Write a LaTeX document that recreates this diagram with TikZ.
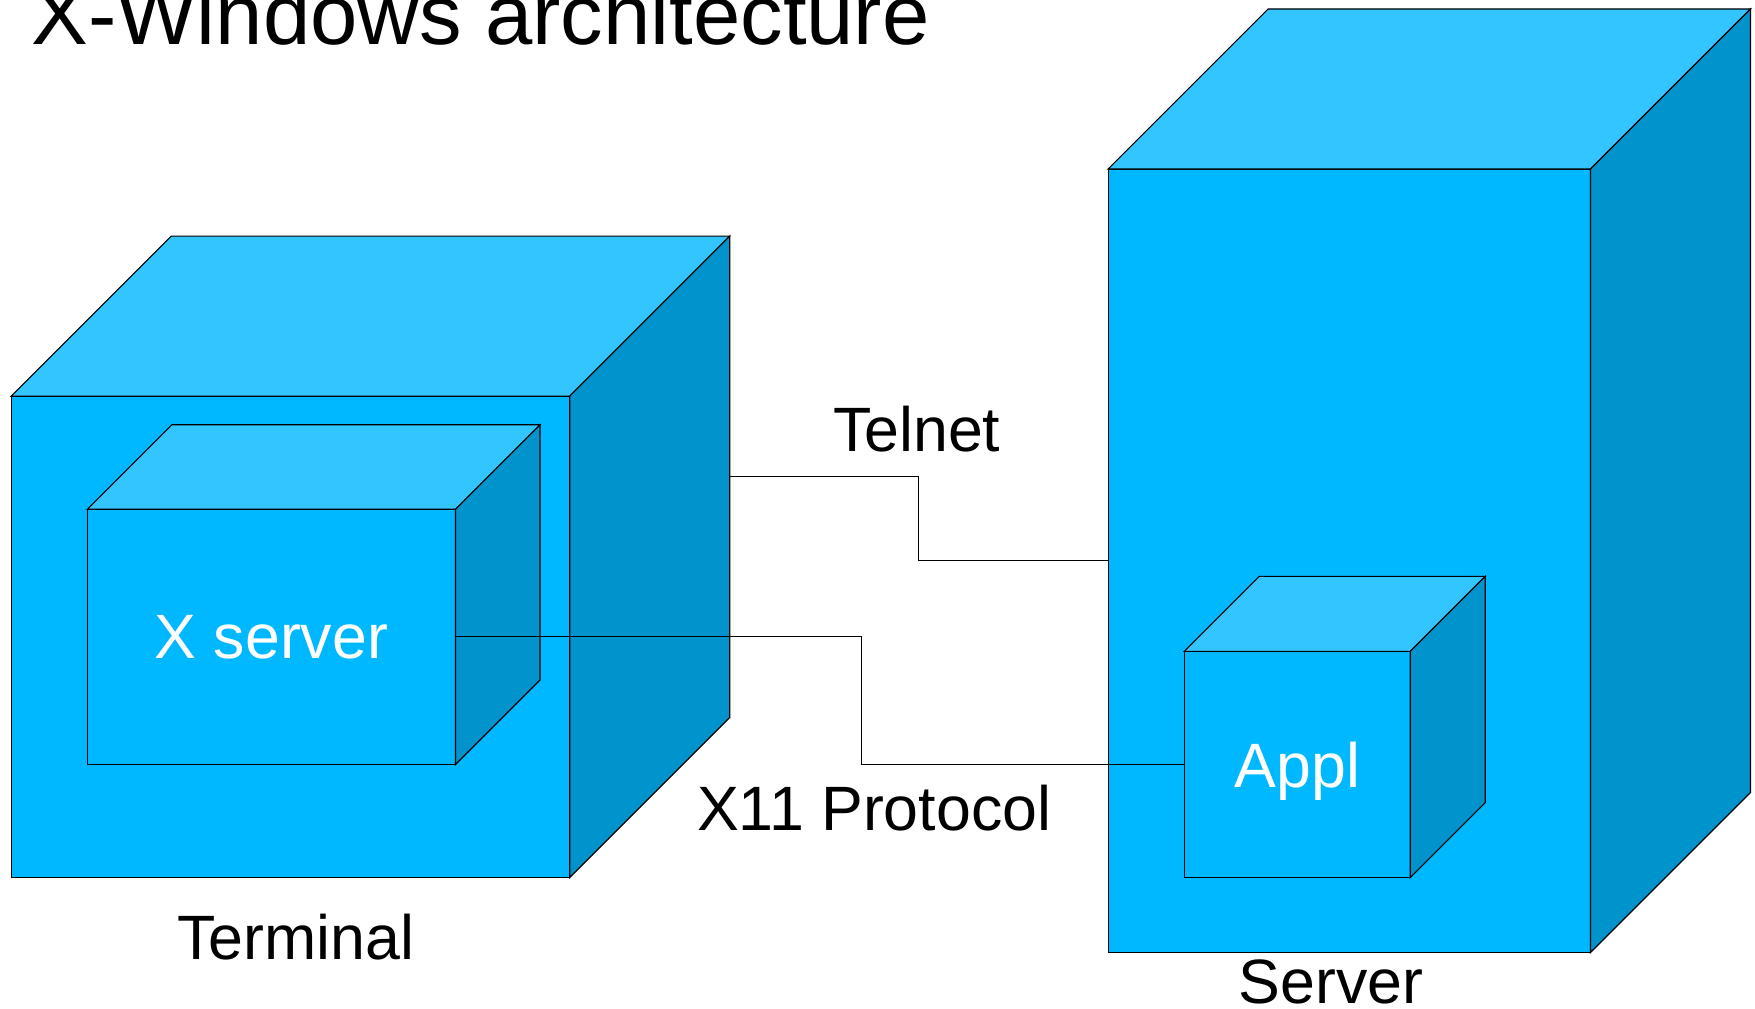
\documentclass[tikz,border=0pt]{standalone}
\usepackage{fontspec}
\setmainfont{Liberation Sans}
\usetikzlibrary{calc}
\definecolor{frontc}{RGB}{0,184,255}
\definecolor{topc}{RGB}{51,197,255}
\definecolor{sidec}{RGB}{0,147,204}
\tikzset{
 face/.style={draw=black, fill=frontc, line width=1pt, inner sep=0pt, outer sep=0pt, anchor=north west, text=white, font=\fontsize{56}{60}\selectfont, text depth=0pt},
 lbl/.style={anchor=base, font=\fontsize{56}{60}\selectfont, inner sep=0pt},
 topface/.style={draw=black, fill=topc, line width=1pt},
 sideface/.style={draw=black, fill=sidec, line width=1pt},
 wire/.style={draw=black, line width=1pt}
}
\newcommand\cubefaces[2]{%
 \path[topface] (#1.north west) -- ++(#2,-#2) -- ($(#1.north east)+(#2,-#2)$) -- (#1.north east) -- cycle;
 \path[sideface] (#1.north east) -- ($(#1.north east)+(#2,-#2)$) -- ($(#1.south east)+(#2,-#2)$) -- (#1.south east) -- cycle;
}
\begin{document}
\begin{tikzpicture}[x=1pt,y=-1pt]
\useasboundingbox (0,0) rectangle (1568,901);
\node[face, minimum width=499pt, minimum height=430pt] (term) at (10,354) {};
\cubefaces{term}{143}
\node[face, minimum width=329pt, minimum height=228pt] (xsrv) at (78,455) {X server};
\cubefaces{xsrv}{75.5}
\node[face, minimum width=431pt, minimum height=700pt] (srv) at (990,151) {};
\cubefaces{srv}{143}
\node[face, minimum width=202pt, minimum height=202pt] (appl) at (1058,582) {Appl};
\cubefaces{appl}{67}
\coordinate (tstart) at ($(term.east)+(143,-143)$);
\draw[wire] (tstart) -- ++(169,0) |- (srv.west);
\draw[wire] (xsrv.east) -- ++(363,0) |- (appl.west);
\node[lbl] (telnet) at (819,403) {Telnet};
\node[lbl] (x11) at (781,742) {X11 Protocol};
\node[lbl] (termlbl) at (264,857) {Terminal};
\node[lbl] (srvlbl) at (1189,897) {Server};
\node[anchor=base west, font=\fontsize{76}{80}\selectfont, inner sep=0pt] (title) at (28,40) {X-Windows architecture};
\end{tikzpicture}
\end{document}
